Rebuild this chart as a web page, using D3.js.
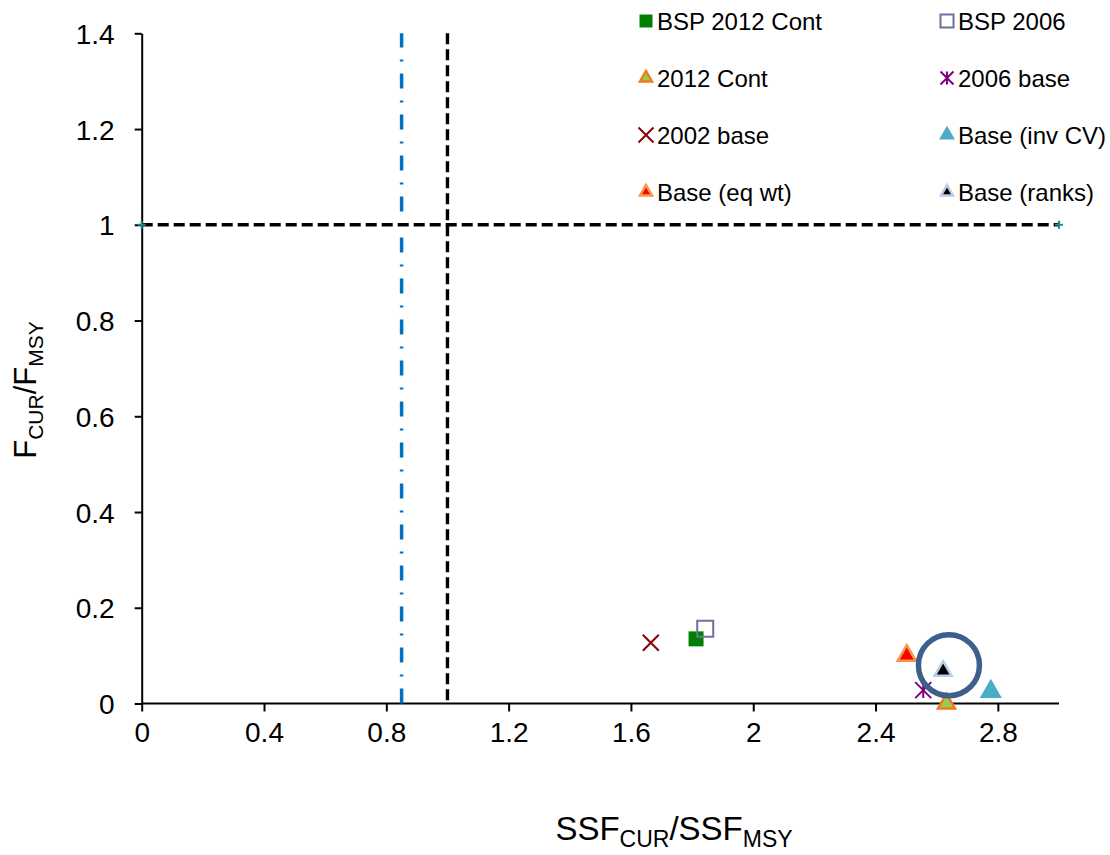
<!DOCTYPE html>
<html>
<head>
<meta charset="utf-8">
<script src="https://cdn.jsdelivr.net/npm/d3@7"></script>
<style>
  html, body { margin: 0; padding: 0; background: #fff; }
  svg { display: block; font-family: "Liberation Sans", Arial, sans-serif; }
</style>
</head>
<body>
<svg id="chart" width="1110" height="855"></svg>
<script>
// ---- data ----
const seriesNames = ["BSP 2012 Cont", "BSP 2006", "2012 Cont", "2006 base", "2002 base", "Base (inv CV)", "Base (eq wt)", "Base (ranks)"];
const ssfValues   = [1.813, 1.843, 2.632, 2.556, 1.665, 2.777, 2.502, 2.621];
const fValues     = [0.135, 0.156, 0.0,   0.028, 0.127, 0.025, 0.100, 0.068];
const legendOrder = ["BSP 2012 Cont", "BSP 2006", "2012 Cont", "2006 base", "2002 base", "Base (inv CV)", "Base (eq wt)", "Base (ranks)"];
const xTicks = [0, 0.4, 0.8, 1.2, 1.6, 2, 2.4, 2.8];
const yTicks = [0, 0.2, 0.4, 0.6, 0.8, 1, 1.2, 1.4];
const refLineX = [0, 3];       // horizontal F/Fmsy = 1 line
const refLineY = [1, 1];
const limitSSF = 1;            // vertical dashed line
const thresholdSSF = 0.85;     // blue dash-dot line
const highlight = {x: 2.64, y: 0.08};

// ---- styles ----
const styles = {
  "BSP 2012 Cont": {shape: "square", fill: "#008000", stroke: "none", size: 15, lsize: 13},
  "BSP 2006":      {shape: "square", fill: "none", stroke: "#6f6fa0", sw: 2, size: 16, lsize: 13},
  "2012 Cont":     {shape: "triangle", fill: "#92D050", stroke: "#F47A20", sw: 2.5, size: 17, lsize: 12},
  "2006 base":     {shape: "asterisk", fill: "none", stroke: "#800080", sw: 2, size: 16, lsize: 13},
  "2002 base":     {shape: "cross", fill: "none", stroke: "#8B0000", sw: 2, size: 16, lsize: 15},
  "Base (inv CV)": {shape: "triangle", fill: "#4BACC6", stroke: "none", size: 22, lsize: 16},
  "Base (eq wt)":  {shape: "triangle", fill: "#FF0000", stroke: "#F79646", sw: 2.5, size: 18, lsize: 12},
  "Base (ranks)":  {shape: "triangle", fill: "#000000", stroke: "#B9CDE5", sw: 2.5, size: 17, lsize: 12}
};

function shapePath(shape, s) {
  const h = s / 2;
  if (shape === "square") return `M${-h},${-h}H${h}V${h}H${-h}Z`;
  if (shape === "triangle") {
    const th = s * Math.sqrt(3) / 2;
    return `M0,${-th * 2 / 3}L${h},${th / 3}L${-h},${th / 3}Z`;
  }
  if (shape === "cross") return `M${-h},${-h}L${h},${h}M${h},${-h}L${-h},${h}`;
  if (shape === "asterisk") return `M${-h},${-h}L${h},${h}M${h},${-h}L${-h},${h}M0,${-h}V${h}`;
  return "";
}

const svg = d3.select("#chart");
const x = d3.scaleLinear().domain([0, 3]).range([141.7, 1059]);
const y = d3.scaleLinear().domain([0, 1.4]).range([703.5, 33.3]);
const fmt = d => (Math.round(d * 10) / 10).toString();

// axes
const xAxis = svg.append("g").attr("transform", `translate(0,${y(0)})`)
  .call(d3.axisBottom(x).tickValues(xTicks).tickFormat(fmt).tickSize(8).tickSizeOuter(0).tickPadding(10));
const yAxis = svg.append("g").attr("transform", `translate(${x(0)},0)`)
  .call(d3.axisLeft(y).tickValues(yTicks).tickFormat(fmt).tickSize(7).tickSizeOuter(0).tickPadding(20));
[xAxis, yAxis].forEach(g => {
  g.select(".domain").attr("stroke", "#000").attr("stroke-width", 2);
  g.selectAll(".tick line").attr("stroke", "#000").attr("stroke-width", 2);
  g.selectAll(".tick text").attr("fill", "#000").style("font-size", "28px")
   .style("font-family", '"Liberation Sans", Arial, sans-serif');
});
yAxis.selectAll(".tick text").attr("dy", "0.36em");
xAxis.selectAll(".tick text").attr("dy", "0.72em");
xAxis.select(".domain").attr("d", `M${x(0)},0H${x(3)}`);

// reference lines
svg.append("line")
  .attr("x1", x(thresholdSSF)).attr("x2", x(thresholdSSF))
  .attr("y1", y(0)).attr("y2", y(1.4))
  .attr("stroke", "#0070C0").attr("stroke-width", 3.5)
  .attr("stroke-dasharray", "15,12,2,12");
svg.append("line")
  .attr("x1", x(limitSSF)).attr("x2", x(limitSSF))
  .attr("y1", y(1.4)).attr("y2", y(0))
  .attr("stroke", "#000").attr("stroke-width", 3.4)
  .attr("stroke-dasharray", "11,5");
svg.append("path")
  .datum(refLineX.map((d, i) => [d, refLineY[i]]))
  .attr("d", d3.line().x(d => x(d[0])).y(d => y(d[1])))
  .attr("fill", "none").attr("stroke", "#000").attr("stroke-width", 3.4)
  .attr("stroke-dasharray", "11,5");
svg.selectAll(".refpt").data(refLineX.map((d, i) => [d, refLineY[i]])).enter()
  .append("path").attr("class", "refpt")
  .attr("transform", d => `translate(${x(d[0])},${y(d[1])})`)
  .attr("d", "M-4,0H4M0,-4V4").attr("stroke", "#1a8a8a").attr("stroke-width", 2);

// data points
const pts = seriesNames.map((n, i) => ({name: n, x: ssfValues[i], y: fValues[i]}));
svg.selectAll(".pt").data(pts).enter().append("path").attr("class", "pt")
  .attr("transform", d => `translate(${x(d.x)},${y(d.y)})`)
  .attr("d", d => shapePath(styles[d.name].shape, styles[d.name].size))
  .attr("fill", d => styles[d.name].fill)
  .attr("stroke", d => styles[d.name].stroke)
  .attr("stroke-width", d => styles[d.name].sw || 0)
  .attr("stroke-linejoin", "miter");

// highlight circle
svg.append("circle")
  .attr("cx", x(highlight.x)).attr("cy", y(highlight.y)).attr("r", 30.5)
  .attr("fill", "none").attr("stroke", "#3C5F8C").attr("stroke-width", 5.5);

// legend
const colX = [646, 947];
const rowY = [21, 78, 135, 192];
const leg = svg.append("g");
legendOrder.forEach((n, i) => {
  const cx = colX[i % 2], cy = rowY[Math.floor(i / 2)];
  const st = styles[n];
  leg.append("path").attr("transform", `translate(${cx},${cy})`)
    .attr("d", shapePath(st.shape, st.lsize))
    .attr("fill", st.fill).attr("stroke", st.stroke).attr("stroke-width", st.sw || 0);
  leg.append("text").attr("x", cx + 11).attr("y", cy + 8.5)
    .style("font-size", "24px").attr("fill", "#000").text(n);
});

// axis titles
const xt = svg.append("text").attr("x", 674).attr("y", 840).attr("text-anchor", "middle")
  .style("font-size", "33px").attr("fill", "#000");
xt.append("tspan").text("SSF");
xt.append("tspan").attr("dy", 7).style("font-size", "23px").text("CUR");
xt.append("tspan").attr("dy", -7).text("/SSF");
xt.append("tspan").attr("dy", 7).style("font-size", "23px").text("MSY");

const yt = svg.append("text").attr("transform", "translate(36,390) rotate(-90)")
  .attr("text-anchor", "middle").style("font-size", "31px").attr("fill", "#000");
yt.append("tspan").text("F");
yt.append("tspan").attr("dy", 7).style("font-size", "21px").text("CUR");
yt.append("tspan").attr("dy", -7).text("/F");
yt.append("tspan").attr("dy", 7).style("font-size", "21px").text("MSY");
</script>
</body>
</html>
